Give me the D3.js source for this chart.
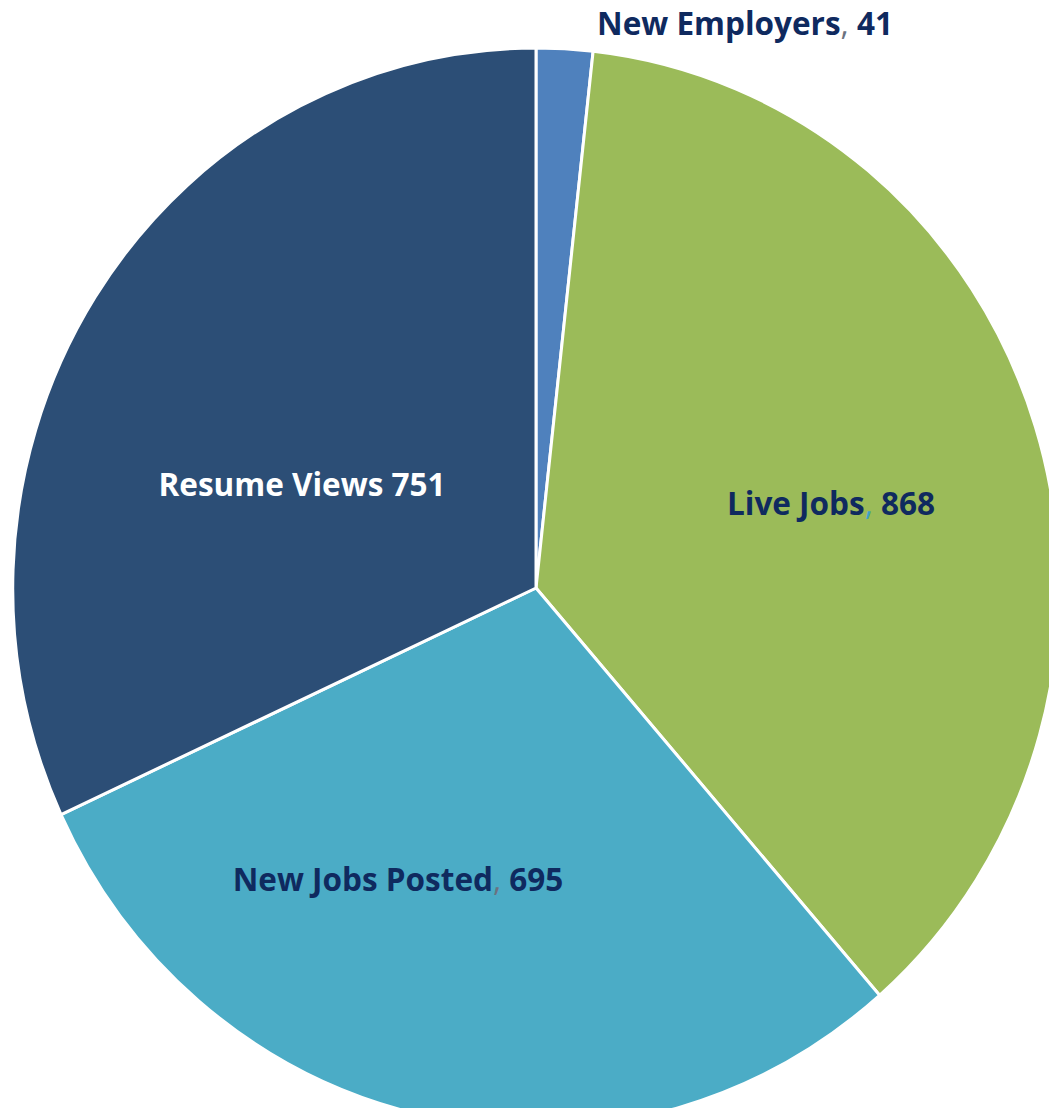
<!DOCTYPE html>
<html>
<head>
<meta charset="utf-8">
<script src="https://cdn.jsdelivr.net/npm/d3@7"></script>
<style>
  html, body { margin: 0; padding: 0; background: #fff; }
  svg { display: block; }
</style>
</head>
<body>
<div id="chart"></div>
<script>
// data
const categories = ["New Employers", "Live Jobs", "New Jobs Posted", "Resume Views"];
const values = [41, 868, 695, 751];
const separators = [",", ",", ",", ""];
const colors = ["#4f81bd", "#9bbb59", "#4bacc6", "#2c4e76"];
const labelColors = ["#0f2a5f", "#0f2a5f", "#0f2a5f", "#ffffff"];
const commaColors = ["#6b7280", "#3ea0c8", "#6b7280", "#ffffff"];

const width = 1049, height = 1108;
const cx = 536, cy = 588;
const R = 540;
const squeeze = 0.969; // picture is a touch narrower than tall

// label centres, offset from the pie centre
const labelOffset = [[209, -564], [295, -84], [-138, 292], [-234, -103]];

const svg = d3.select("#chart").append("svg")
  .attr("width", width).attr("height", height);

const pie = d3.pie().sort(null).value(d => d)(values);
const arc = d3.arc().innerRadius(0).outerRadius(R);

const g = svg.append("g")
  .attr("transform", "translate(" + cx + "," + cy + ") scale(" + squeeze + ",1)");

g.selectAll("path.slice").data(pie).enter()
  .append("path")
  .attr("class", "slice")
  .attr("d", arc)
  .attr("fill", (d, i) => colors[i])
  .attr("stroke", "#fff")
  .attr("stroke-width", 3)
  .attr("stroke-linejoin", "round")
  .attr("vector-effect", "non-scaling-stroke");

const labels = svg.append("g").attr("transform", "translate(" + cx + "," + cy + ")");

const txt = labels.selectAll("text.lbl").data(pie).enter()
  .append("text")
  .attr("class", "lbl")
  .attr("x", (d, i) => labelOffset[i][0])
  .attr("y", (d, i) => labelOffset[i][1])
  .attr("dy", "0.35em")
  .attr("text-anchor", "middle")
  .attr("font-family", "'Open Sans', Lato, sans-serif")
  .attr("font-weight", "bold")
  .attr("font-size", "31.5px")
  .attr("fill", (d, i) => labelColors[i]);

txt.append("tspan").text((d, i) => categories[i]);
txt.append("tspan")
  .attr("fill", (d, i) => commaColors[i])
  .attr("font-weight", "normal")
  .text((d, i) => separators[i]);
txt.append("tspan").text((d, i) => " " + values[i]);
</script>
</body>
</html>
